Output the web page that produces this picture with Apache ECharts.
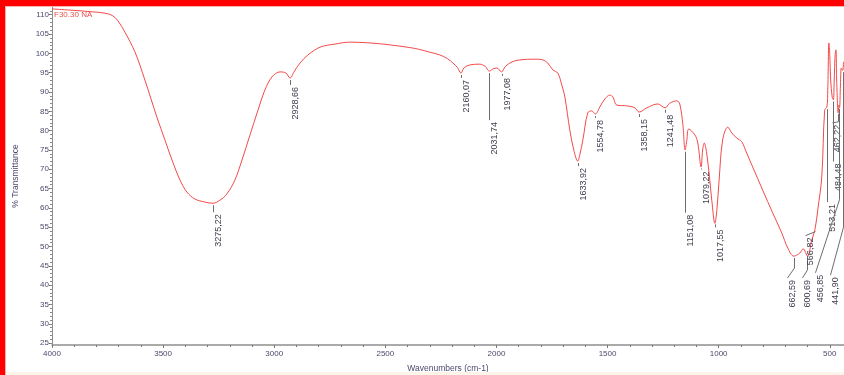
<!DOCTYPE html>
<html>
<head>
<meta charset="utf-8">
<script src="https://cdn.jsdelivr.net/npm/echarts@6/dist/echarts.min.js"></script>
<style>
html,body{margin:0;padding:0;background:#fff;}
#c{width:844px;height:375px;}
</style>
</head>
<body>
<div id="c"></div>
<script>
// ---- data ----
const wavenumbers = [4000,3919,3829,3762,3726,3703,3672,3627,3582,3528,3492,3460,3424,3393,3357,3312,3275,3244,3213,3177,3145,3109,3073,3042,3010,2974,2947,2929,2911,2884,2848,2794,2727,2659,2569,2480,2390,2345,2300,2255,2220,2196,2175,2160,2145,2120,2075,2050,2032,2015,1998,1977,1960,1930,1895,1827,1791,1769,1746,1724,1706,1692,1670,1652,1634,1625,1611,1589,1571,1555,1535,1512,1490,1476,1458,1413,1377,1358,1323,1274,1241,1220,1188,1175,1161,1151,1143,1135,1107,1094,1079,1072,1065,1054,1040,1031,1017,1008,998,982,959,941,919,896,874,847,802,757,716,689,662,635,620,600,581,567,554,536,523,513,509,504,500,496,489,484,480,476,472,469,462,459,456,452,448,442,438];
const transmittance = [111.5,111.2,110.8,110.4,109.7,108.4,105.5,100.4,93.1,83.5,77.6,72.4,67.2,64.1,62.3,61.5,61.2,62.0,63.6,67.2,72.4,78.9,85.3,90.5,93.9,95.2,94.9,93.6,95.2,97.5,99.6,101.6,102.4,102.9,102.7,102.2,101.5,101.0,100.3,99.6,98.6,97.5,96.3,94.9,96.3,97.0,97.2,96.6,95.4,96.0,96.2,95.2,96.6,97.8,98.3,98.5,98.3,97.5,95.7,94.9,91.8,88.7,80.2,75.0,72.1,73.7,77.6,84.6,85.1,84.3,86.1,88.2,89.2,88.7,86.6,86.4,85.9,84.8,85.9,86.9,85.9,87.1,87.7,86.9,81.5,75.0,77.6,80.4,78.9,76.8,70.6,75.0,76.8,74.2,67.2,62.0,56.0,59.5,67.2,77.6,80.9,79.4,78.1,77.1,74.2,70.6,64.6,58.7,53.5,49.6,47.5,48.3,49.4,47.5,51.7,54.3,59.5,68.0,85.3,86.1,90.5,102.7,99.6,93.1,88.6,88.0,93.1,99.6,100.9,93.1,84.6,86.6,86.0,91.8,96.2,95.6,97.8];
const xTickLabels = [4000,3500,3000,2500,2000,1500,1000,500];
const yTickLabels = [25,30,35,40,45,50,55,60,65,70,75,80,85,90,95,100,105,110];
const peakPositions = [3275.22,2928.66,2160.07,2031.74,1977.08,1633.92,1554.78,1358.15,1241.48,1151.08,1079.22,1017.55,662.59,600.69,566.82,513.21,484.48,462.22,456.85,441.90];
const sampleName = 'F30.30 NA';

// ---- label layout (pixels): [vertical drop, elbow dx, elbow dy] ----
const peakLayout = [[9,0,0],[7,0,0],[5,0,0],[49,0,0],[4,0,0],[5,0,0],[4,0,0],[5,0,0],[5,0,0],[63,0,0],[3,0,0],[5,0,0],
  [12,-7,10],[14,-5,8],[2,-10,4],[95,0,0],[62,0,0],[10,-6,1],[93,-24,73],[157,-13,48]];

const minorX = []; for (let v = 500; v <= 4000; v += 100) minorX.push(v);
const minorY = []; for (let v = 25; v <= 111; v += 1) minorY.push(v);

function interp(w){
  for (let i = 0; i < wavenumbers.length - 1; i++) {
    const a = wavenumbers[i], b = wavenumbers[i+1];
    if (w <= a && w >= b) {
      const t = (a - w) / (a - b);
      return transmittance[i] + t * (transmittance[i+1] - transmittance[i]);
    }
  }
  return transmittance[transmittance.length - 1];
}
const lineData = wavenumbers.map((w, i) => [w, transmittance[i]]);
const peakData = peakPositions.map(w => [w, interp(w)]);

const labelColor = '#4a4a6e';
const font = 'Liberation Sans';

const chart = echarts.init(document.getElementById('c'));
chart.setOption({
  animation: false,
  backgroundColor: '#ffffff',
  grid: {left: 52, right: 0, top: 7, bottom: 30, outerBoundsMode: 'none'},
  xAxis: [{
    type: 'value', inverse: true, min: 436, max: 4000,
    axisLine: {show: true, onZero: false, lineStyle: {color: '#8e8e8e', width: 1.5}},
    axisTick: {show: true, customValues: xTickLabels, length: 3, lineStyle: {color: '#777'}},
    axisLabel: {customValues: xTickLabels, formatter: v => String(v), color: labelColor, fontSize: 8, fontFamily: font, margin: 5},
    splitLine: {show: false},
    name: 'Wavenumbers (cm-1)', nameLocation: 'middle', nameGap: 19,
    nameTextStyle: {color: labelColor, fontSize: 8.5, fontFamily: font}
  }, {
    type: 'value', inverse: true, min: 436, max: 4000, position: 'bottom',
    axisLine: {show: false, onZero: false},
    axisTick: {show: true, customValues: minorX, length: 2, lineStyle: {color: '#777'}},
    axisLabel: {show: false}, splitLine: {show: false}
  }],
  yAxis: [{
    type: 'value', min: 24.5, max: 112, position: 'left',
    axisLine: {show: true, onZero: false, lineStyle: {color: '#8e8e8e', width: 1}},
    axisTick: {show: true, customValues: yTickLabels, length: 3, lineStyle: {color: '#666'}},
    axisLabel: {customValues: yTickLabels, formatter: v => String(v), color: labelColor, fontSize: 8, fontFamily: font, margin: 3},
    splitLine: {show: false},
    name: '% Transmittance', nameLocation: 'middle', nameGap: 32,
    nameTextStyle: {color: labelColor, fontSize: 8.5, fontFamily: font}
  }, {
    type: 'value', min: 24.5, max: 112, position: 'left',
    axisLine: {show: false, onZero: false},
    axisTick: {show: true, customValues: minorY, length: 2, lineStyle: {color: '#888'}},
    axisLabel: {show: false}, splitLine: {show: false}
  }],
  series: [{
    type: 'line', data: lineData, xAxisIndex: 0, yAxisIndex: 0,
    showSymbol: false, smooth: 0.35,
    lineStyle: {color: '#f24a4a', width: 1}, z: 3
  }, {
    type: 'custom', xAxisIndex: 0, yAxisIndex: 0, data: peakData, clip: false, z: 4,
    renderItem: function (params, api) {
      const i = params.dataIndex;
      const lay = peakLayout[i];
      const p0 = api.coord([api.value(0), api.value(1)]);
      const x0 = Math.round(p0[0]) + 0.5;
      const pts = [[x0, p0[1] + 2], [x0, p0[1] + lay[0]]];
      if (lay[1] !== 0 || lay[2] !== 0) pts.push([x0 + lay[1], p0[1] + lay[0] + lay[2]]);
      const end = pts[pts.length - 1];
      const txt = peakPositions[i].toFixed(2).replace('.', ',');
      return {
        type: 'group',
        children: [{
          type: 'polyline', shape: {points: pts},
          style: {stroke: '#6e6e6e', lineWidth: 1, fill: null}
        }, {
          type: 'text', x: end[0] + 5.5, y: end[1] + 2, rotation: Math.PI / 2,
          style: {text: txt, fill: '#3c3c4c', fontSize: 9, fontFamily: font, align: 'right', verticalAlign: 'middle'}
        }]
      };
    }
  }],
  graphic: [
    {type: 'rect', shape: {x: 0, y: 0, width: 844, height: 6}, style: {fill: '#ff0000'}, z: 100},
    {type: 'rect', shape: {x: 0, y: 6, width: 844, height: 1}, style: {fill: '#f6b0b0'}, z: 100},
    {type: 'rect', shape: {x: 0, y: 0, width: 5, height: 375}, style: {fill: '#ff0000'}, z: 100},
    {type: 'rect', shape: {x: 5, y: 6, width: 1, height: 369}, style: {fill: '#f6b0b0'}, z: 100},
    {type: 'rect', shape: {x: 0, y: 372, width: 844, height: 3}, style: {fill: '#fdf4ea'}, z: 99},
    {type: 'text', x: 54, y: 11, style: {text: sampleName, fill: '#e8504a', fontSize: 8, fontFamily: font}, z: 100}
  ]
});
</script>
</body>
</html>
